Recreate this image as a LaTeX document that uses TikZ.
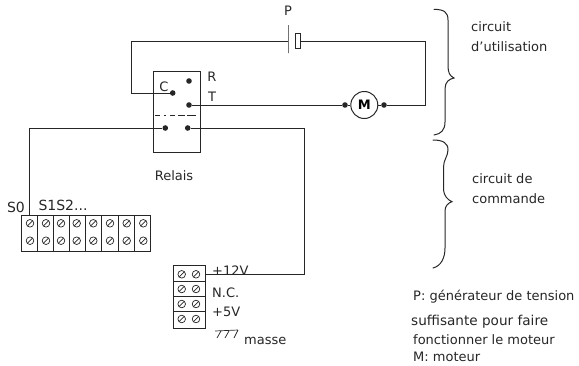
\documentclass[tikz,border=0pt]{standalone}
\usepackage{fontspec}
\setmainfont{DejaVu Sans}
\tikzset{
  wire/.style={draw=black!85,line width=1pt},
  thin box/.style={draw=black!85,line width=1pt,inner sep=0pt,fill=none},
  dotn/.style={circle,fill=black!85,draw=none,minimum size=5.6pt,inner sep=0pt},
  screwn/.style={circle,draw=black!85,line width=0.7pt,minimum size=7.6pt,inner sep=0pt},
  lab/.style={inner sep=0pt,text=black!85,font=\fontsize{13}{15}\selectfont},
  labl/.style={lab,anchor=west},
  brace/.style={draw=black!85,line width=1pt,line cap=round}
}
\newcommand{\screwat}[2]{\node[screwn] (s#1#2) at (#1,#2) {};
  \draw[black!85,line width=0.7pt] (#1-2.6,#2+2.6) -- (#1+2.6,#2-2.6);}
\begin{document}
\begin{tikzpicture}[x=1pt,y=-1pt]
\useasboundingbox (0,0) rectangle (579,365);
% relay
\node[thin box,minimum width=47.4pt,minimum height=81.4pt] (relay) at (177,112) {};
\draw[black!85,line width=0.8pt,dash pattern=on 5pt off 4pt on 2pt off 4pt on 5pt off 3pt on 7pt off 2pt on 9pt] (155,115.7) -- (197.5,115.7);
\node[dotn] (dC) at (172.7,93) {};
\node[dotn] (dR) at (189,81) {};
\node[dotn] (dT) at (189,105) {};
\node[dotn] (dL) at (165.3,128) {};
\node[dotn] (dK) at (187.7,128) {};
\node[lab] (lC) at (164,87) {C};
\node[lab] (lR) at (212,77) {R};
\node[lab] (lT) at (212,97) {T};
\node[lab] (lRelais) at (174,176) {Relais};
% battery
\node[lab] (lP) at (288,11) {P};
\node[thin box,minimum width=0pt,minimum height=28pt] (plate) at (288,39) {};
\node[thin box,minimum width=5.5pt,minimum height=15pt] (cell) at (298.2,41.3) {};
\coordinate (pw) at (288,41.3);
% motor
\node[circle,draw=black!85,line width=1pt,minimum size=27pt,inner sep=0pt,font=\bfseries\fontsize{13}{14}\selectfont] (motor) at (364.3,105) {M};
\node[dotn] (mL) at (345,105) {};
\node[dotn] (mR) at (384,105) {};
% blocks
\node[thin box,minimum width=128.3pt,minimum height=35.3pt] (b1) at (85.85,233.35) {};
\foreach \x in {37.3,53.3,69,85,101.3,118.3,134.3} \draw[black!85,line width=1pt] (\x,215.7) -- (\x,251);
\foreach \x in {30,46,61,76.7,93.3,110,126.7,143.3} {\screwat{\x}{223.3}\screwat{\x}{240.7}}
\node[thin box,minimum width=32pt,minimum height=62.6pt] (b2) at (189.7,297) {};
\foreach \y in {281.7,296.7,311.7} \draw[black!85,line width=1pt] (173.7,\y) -- (205.7,\y);
\foreach \y in {274.3,289,304,319} {\screwat{181.7}{\y}\screwat{196}{\y}}
\coordinate (b1top) at (29,215.7);
\coordinate (b2r) at (205.7,274);
% wires
\draw[wire] (pw) -- (131,41.3) |- (dC);
\draw[wire] (cell.east) -- (425.7,41.3) |- (mR);
\draw[wire] (dT) -- (mL);
\draw[wire] (mL) -- (motor);
\draw[wire] (mR) -- (motor);
\draw[wire] (dL) -- (29,128) -- (b1top);
\draw[wire] (dK) -- (304.3,128) |- (b2r);
% labels
\node[lab,font=\fontsize{14}{16}\selectfont] (lS0) at (16,207) {S0};
\node[lab,font=\fontsize{14}{16}\selectfont] (lS) at (63,205.5) {S1S2...};
\node[labl] (l12) at (212,271) {+12V};
\node[labl] (lNC) at (212,292.5) {N.C.};
\node[labl] (l5) at (212,312) {+5V};
\node[labl] (lm) at (244,341) {masse};
\draw[black!85,line width=0.7pt] (215,331) -- (238,330) (221,331) -- (217,338) (229,331) -- (225,338) (238,330) -- (234,338);
\node[labl] (c1) at (471,27) {circuit};
\node[labl] (c2) at (471,47) {d'utilisation};
\node[labl] (c3) at (472,179) {circuit de};
\node[labl] (c4) at (472,199) {commande};
\node[labl] (t1) at (413,297) {P: générateur de tension};
\node[labl,font=\fontsize{13.6}{15}\selectfont] (t2) at (411,322) {suffisante pour faire};
\node[labl] (t3) at (413,340) {fonctionner le moteur};
\node[labl] (t4) at (413,357) {M: moteur};
% braces
\draw[brace] (434,9.3) .. controls (444,9.5) and (448,12) .. (448,20) -- (448,66) .. controls (448,73) and (450,76) .. (454,78) .. controls (449,79) and (445,82) .. (445,89) -- (445,122) .. controls (445,130) and (441,134) .. (434,135);
\draw[brace] (433,140) .. controls (443,140) and (448,143) .. (448,150) .. controls (448,156) and (443.5,160) .. (443.5,167) -- (443.5,190) .. controls (444,196) and (448,200) .. (452,201.7) .. controls (448,203) and (445,206) .. (445,211) -- (445,248) .. controls (445,258) and (441,266) .. (433,268);
\end{tikzpicture}
\end{document}
